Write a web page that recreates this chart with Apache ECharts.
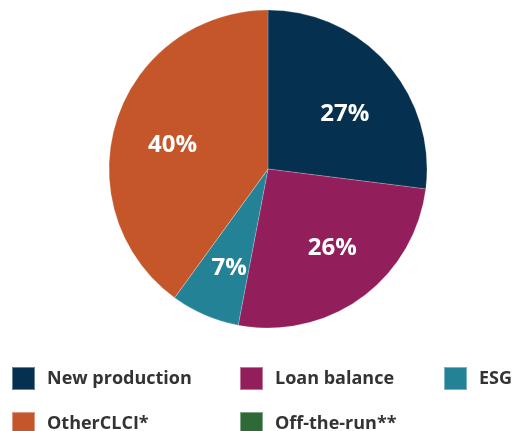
<!DOCTYPE html>
<html><head><meta charset="utf-8">
<script src="https://cdn.jsdelivr.net/npm/echarts@6/dist/echarts.min.js"></script>
<style>html,body{margin:0;padding:0;background:#fff}#c{width:517px;height:431px}</style>
</head><body><div id="c"></div>
<script>
const categories = ['New production', 'Loan balance', 'ESG', 'Off-the-run**', 'OtherCLCI*'];
const values = [27, 26, 7, 0, 40];
const colors = ['#06304f', '#921e5b', '#248296', '#2e6a36', '#c4562a'];
const legendCol1 = ['New production', 'OtherCLCI*'];
const legendCol2 = ['Loan balance', 'Off-the-run**'];
const legendCol3 = ['ESG'];
const labelNudges = [[0, 13], [4, -4], [2, 5], [0, 0], [2, 8]];

const FONT = '"Open Sans", sans-serif';
const data = categories.map((n, i) => ({ name: n, value: values[i], itemStyle: { color: colors[i] } }));
const legendBase = {
  orient: 'vertical', top: 366, height: 80, padding: 0, itemWidth: 23, itemHeight: 23, itemGap: 20,
  icon: 'rect', selectedMode: false,
  textStyle: { fontFamily: FONT, fontSize: 18, fontWeight: 'bold', color: '#333', lineHeight: 23, padding: [0, 0, 0, 7] }
};
const chart = echarts.init(document.getElementById('c'), null, { renderer: 'canvas' });
chart.setOption({
  animation: false,
  legend: [
    Object.assign({}, legendBase, { left: 11, data: legendCol1 }),
    Object.assign({}, legendBase, { left: 239, data: legendCol2 }),
    Object.assign({}, legendBase, { left: 443, data: legendCol3 })
  ],
  series: [
    {
      type: 'pie', center: [268, 169], radius: [0, 159], startAngle: 90, clockwise: true,
      label: { show: false }, labelLine: { show: false },
      itemStyle: { borderColor: 'rgba(255,255,255,0.4)', borderWidth: 0.5 },
      emphasis: { disabled: true },
      data: data
    },
    {
      type: 'pie', center: [268, 169], radius: [40, 159], startAngle: 90, clockwise: true,
      silent: true, emphasis: { disabled: true },
      itemStyle: { color: 'rgba(0,0,0,0)' },
      labelLine: { show: false },
      label: {
        show: true, position: 'inside', color: '#fff', fontFamily: FONT, fontSize: 24, fontWeight: 'bold',
        formatter: p => p.value > 0 ? p.value + '%' : ''
      },
      data: categories.map((n, i) => ({
        name: n, value: values[i], itemStyle: { color: 'rgba(0,0,0,0)' },
        label: { offset: labelNudges[i] }
      }))
    }
  ]
});
</script></body></html>
